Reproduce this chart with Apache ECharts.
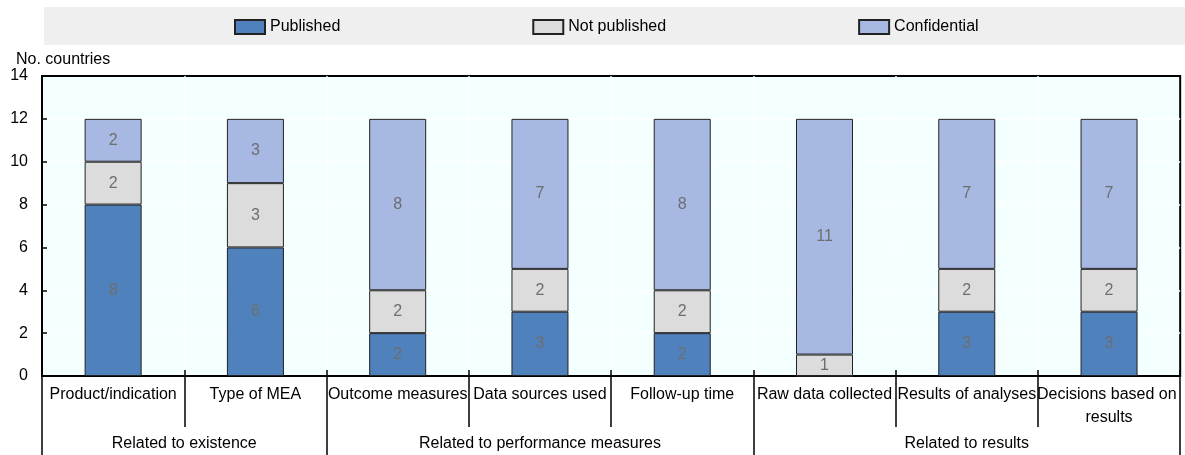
<!DOCTYPE html>
<html>
<head>
<meta charset="utf-8">
<script src="https://cdn.jsdelivr.net/npm/echarts@6/dist/echarts.min.js"></script>
<style>
html,body{margin:0;padding:0;background:#fff;}
#chart{width:1185px;height:455px;}
</style>
</head>
<body>
<div id="chart"></div>
<script>
const categories = ['Product/indication','Type of MEA','Outcome measures','Data sources used','Follow-up time','Raw data collected','Results of analyses','Decisions based on results'];
const groupNames = ['Related to existence','Related to performance measures','Related to results'];
const groupSizes = [2,3,3];
const seriesNames = ['Published','Not published','Confidential'];
const published = [8,6,2,3,2,0,3,3];
const notPublished = [2,3,2,2,2,1,2,2];
const confidential = [2,3,8,7,8,11,7,7];
const yTicks = [0,2,4,6,8,10,12,14];

const colors = ['#4f81bd','#dcdcdc','#a7b9e3'];
const FONT = '"Liberation Sans", Arial, sans-serif';

const groupBounds = [0];
groupSizes.forEach(s => groupBounds.push(groupBounds[groupBounds.length-1] + s));
const groupCentres = groupSizes.map((s,i) => groupBounds[i] + s/2);

const chart = echarts.init(document.getElementById('chart'));
const values = [published, notPublished, confidential];

chart.setOption({
  animation: false,
  textStyle: {fontFamily: FONT},
  title: {
    text: 'No. countries', left: 11, top: 47,
    textStyle: {fontSize: 16, fontWeight: 'normal', color: '#000', fontFamily: FONT}
  },
  graphic: [{
    type: 'rect', left: 44, top: 7, z: -10,
    shape: {width: 1141, height: 38},
    style: {fill: '#efefef'}
  }],
  legend: {
    left: 229, top: 14, itemWidth: 30, itemHeight: 14, itemGap: 192, icon: 'rect',
    textStyle: {fontSize: 16, color: '#000', fontFamily: FONT},
    data: seriesNames,
    selectedMode: false
  },
  grid: {
    left: 42, top: 76, right: 4, bottom: 79,
    show: true, backgroundColor: '#f4ffff', borderColor: '#000', borderWidth: 2
  },
  xAxis: [
    {
      type: 'category', data: categories, position: 'bottom',
      axisLine: {show: true, lineStyle: {color: '#000', width: 1.5}},
      axisTick: {show: true, alignWithLabel: false, interval: 0, length: 51, lineStyle: {color: '#000', width: 1.5}},
      axisLabel: {interval: 0, margin: 7, fontSize: 16, color: '#000', fontFamily: FONT, width: 146, overflow: 'break', lineHeight: 23},
      splitLine: {show: true, interval: 0, showMinLine: false, showMaxLine: false, lineStyle: {color: '#ffffff', width: 1.5}}
    },
    {
      type: 'value', min: 0, max: categories.length, position: 'bottom',
      axisLine: {show: false},
      splitLine: {show: false},
      axisTick: {show: true, customValues: groupBounds, length: 79, lineStyle: {color: '#000', width: 1.5}},
      axisLabel: {
        show: true, customValues: groupCentres, margin: 60, fontSize: 16, color: '#000', fontFamily: FONT,
        formatter: function (v) { const i = groupCentres.indexOf(v); return i >= 0 ? groupNames[i] : ''; }
      }
    },
    {
      type: 'category', data: categories, position: 'bottom',
      axisLine: {show: false},
      axisTick: {show: true, inside: true, interval: 0, length: 6, lineStyle: {color: '#000', width: 1.5}},
      axisLabel: {show: false},
      splitLine: {show: false}
    }
  ],
  yAxis: {
    type: 'value', min: yTicks[0], max: yTicks[yTicks.length-1], interval: 2,
    axisLine: {show: true, lineStyle: {color: '#000', width: 1.5}},
    axisTick: {show: true, inside: true, length: 5, lineStyle: {color: '#000', width: 1.5}},
    axisLabel: {fontSize: 16, color: '#000', margin: 14, fontFamily: FONT},
    splitLine: {show: true, showMinLine: false, showMaxLine: false, lineStyle: {color: '#ffffff', width: 1.5}}
  },
  series: seriesNames.map((name, i) => ({
    name: name, type: 'bar', stack: 'total', xAxisIndex: 0,
    barWidth: 57,
    data: values[i],
    itemStyle: {color: colors[i], borderColor: '#222', borderWidth: 1},
    label: {
      show: true, position: 'inside', color: '#6e6e6e', fontSize: 16, fontFamily: FONT,
      formatter: p => p.value === 0 ? '' : String(p.value)
    }
  }))
});
</script>
</body>
</html>
